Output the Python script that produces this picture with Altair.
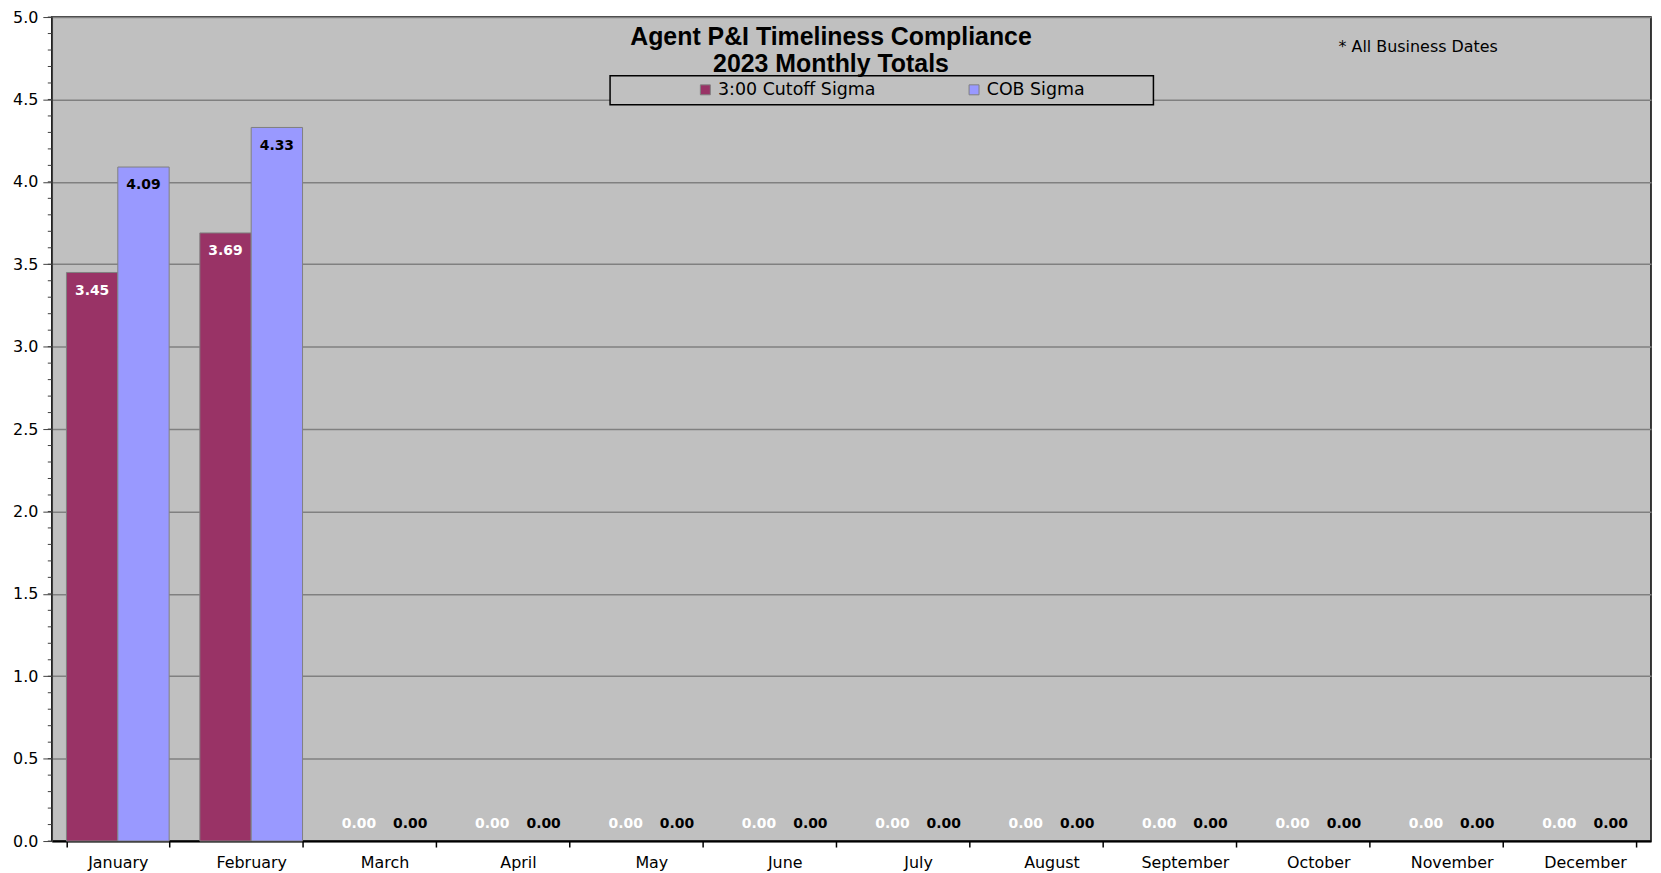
import altair as alt
import pandas as pd

months = ["January", "February", "March", "April", "May", "June", "July",
          "August", "September", "October", "November", "December"]
series_names = ["3:00 Cutoff Sigma", "COB Sigma"]
cutoff_sigma = [3.45, 3.69, 0, 0, 0, 0, 0, 0, 0, 0, 0, 0]
cob_sigma = [4.09, 4.33, 0, 0, 0, 0, 0, 0, 0, 0, 0, 0]
series_colors = ["#993366", "#9999FF"]
major_ticks = [0.0, 0.5, 1.0, 1.5, 2.0, 2.5, 3.0, 3.5, 4.0, 4.5, 5.0]
minor_ticks = [round(i * 0.1, 1) for i in range(51)]
title_line1 = "Agent P&I Timeliness Compliance"
title_line2 = "2023 Monthly Totals"
footnote = "* All Business Dates"

rows = []
for m, a, b in zip(months, cutoff_sigma, cob_sigma):
    rows.append({"month": m, "series": series_names[0], "value": a})
    rows.append({"month": m, "series": series_names[1], "value": b})
df = pd.DataFrame(rows)

FONT = "Liberation Sans"
AXFONT = "DejaVu Sans"

x_enc = alt.X("month:N", sort=months, title=None,
              scale=alt.Scale(paddingInner=0.23, paddingOuter=0.11),
              axis=alt.Axis(labelAngle=0, tickBand="extent", tickSize=6,
                            tickColor="black", tickWidth=1.5, domainColor="black",
                            domainWidth=2, labelFontSize=16, labelFont=AXFONT,
                            labelColor="black", labelPadding=8, grid=False))
y_enc = alt.Y("value:Q", title=None,
              scale=alt.Scale(domain=[0, 5], nice=False),
              axis=alt.Axis(values=major_ticks, format=".1f", labelOverlap=False,
                            tickSize=9, tickColor="#404040", domainColor="#404040",
                            domainWidth=1.5, labelFontSize=16, labelFont=AXFONT,
                            labelColor="black", labelPadding=5,
                            gridColor="#808080", gridWidth=1.5))
xo = alt.XOffset("series:N", sort=series_names, scale=alt.Scale(paddingInner=0, paddingOuter=0))

base = alt.Chart(df)

bars = base.mark_bar(stroke="#808080", strokeWidth=1).encode(
    x=x_enc, y=y_enc, xOffset=xo,
    color=alt.Color("series:N", sort=series_names,
                    scale=alt.Scale(domain=series_names, range=series_colors),
                    legend=alt.Legend(title=None, orient="none", direction="horizontal",
                                      legendX=648, legendY=64, padding=0,
                                      symbolType="square", symbolSize=100,
                                      symbolStrokeColor="#808080", symbolStrokeWidth=1,
                                      labelFontSize=17.5, labelFont=AXFONT, labelColor="black",
                                      labelOffset=4, columnPadding=90)),
    strokeOpacity=alt.condition("datum.value > 0", alt.value(1), alt.value(0)),
)

minor = alt.Chart(pd.DataFrame({"v": minor_ticks})).mark_rule(
    color="#404040", strokeWidth=1).encode(
    y=alt.Y("v:Q"), x=alt.value(-4), x2=alt.value(0))

label_color = alt.condition(f"datum.series == '{series_names[0]}'",
                            alt.value("white"), alt.value("black"))

labels_pos = base.mark_text(font=AXFONT, fontSize=14, fontWeight="bold", dy=18.5,
                            baseline="middle").encode(
    x=alt.X("month:N", sort=months), y="value:Q", xOffset=xo,
    text=alt.Text("value:Q", format=".2f"), color=label_color,
).transform_filter("datum.value > 0")

labels_zero = base.mark_text(font=AXFONT, fontSize=14, fontWeight="bold", dy=-17,
                             baseline="middle").encode(
    x=alt.X("month:N", sort=months), y="value:Q", xOffset=xo,
    text=alt.Text("value:Q", format=".2f"), color=label_color,
).transform_filter("datum.value == 0")

legend_box = alt.Chart(pd.DataFrame({"k": [1]})).mark_rect(
    fill="#C0C0C0", stroke="black", strokeWidth=1.5).encode(
    x=alt.value(561), x2=alt.value(1107), y=alt.value(59), y2=alt.value(88))

t1 = alt.Chart(pd.DataFrame({"t": [title_line1]})).mark_text(
    font=FONT, fontSize=25, fontWeight="bold", baseline="middle", align="center",
    color="black").encode(text="t:N", x=alt.value(783), y=alt.value(20))
t2 = alt.Chart(pd.DataFrame({"t": [title_line2]})).mark_text(
    font=FONT, fontSize=25, fontWeight="bold", baseline="middle", align="center",
    color="black").encode(text="t:N", x=alt.value(783), y=alt.value(47))

foot = alt.Chart(pd.DataFrame({"t": [footnote]})).mark_text(
    font=AXFONT, fontSize=16, align="left", baseline="middle", color="black").encode(
    text="t:N", x=alt.value(1293), y=alt.value(30))

chart = alt.layer(bars, minor, labels_pos, labels_zero, legend_box, t1, t2, foot).properties(
    width=1607, height=828,
    padding={"left": 44, "top": 7, "right": 2, "bottom": 30},
    autosize=alt.AutoSizeParams(type="none"),
    background="white",
).configure_view(fill="#C0C0C0", stroke="black", strokeWidth=1.5)

chart.save("out.html", embed_options={"renderer": "svg", "actions": False})
